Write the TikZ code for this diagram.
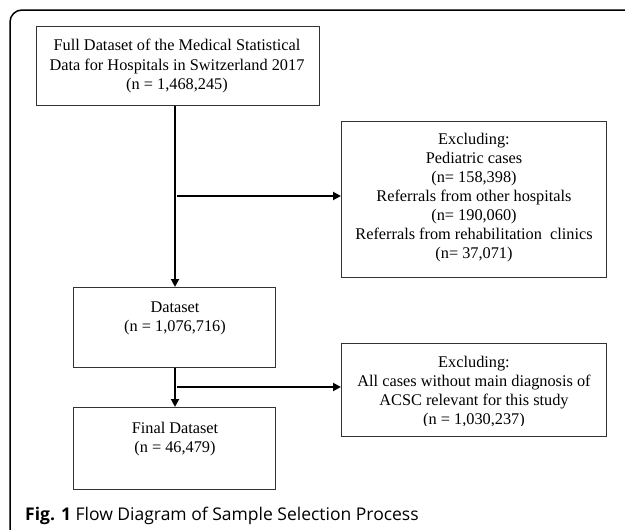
\documentclass[tikz,border=0pt]{standalone}
\usepackage{fontspec}
\setmainfont{Liberation Serif}
\newfontfamily\capfont{Open Sans}
\usetikzlibrary{arrows.meta,calc}
\begin{document}
\begin{tikzpicture}[x=1pt,y=-1pt,
  box/.style={draw=black!80,line width=1pt,rectangle,inner sep=0pt,anchor=north west},
  txt/.style={align=center,font=\fontsize{16.3}{19.1}\selectfont,inner sep=0pt},
  arr/.style={line width=1.8pt,-{Triangle[length=8pt,width=8pt]}},
  ]
\useasboundingbox (0,0) rectangle (625,530);
\draw[line width=1.5pt,rounded corners=12pt] (10,560) -- (10,10) -- (660,10);

\node[box,minimum width=283pt,minimum height=79pt] (b1) at (36,26) {};
\node[box,minimum width=265pt,minimum height=156pt] (r1) at (341,121) {};
\node[box,minimum width=202pt,minimum height=80pt] (ds) at (73,287) {};
\node[box,minimum width=265pt,minimum height=93pt] (r2) at (341,343) {};
\node[box,minimum width=202pt,minimum height=82pt] (fin) at (73,407) {};

\node[txt] (t1) at (177,66) {Full Dataset of the Medical Statistical\\Data for Hospitals in Switzerland 2017\\(n = 1,468,245)};
\node[txt] (t2) at (474,197.5) {Excluding:\\Pediatric cases\\(n= 158,398)\\Referrals from other hospitals\\(n= 190,060)\\Referrals from rehabilitation\ \ clinics\\(n= 37,071)};
\node[txt] (t3) at (175,318) {Dataset\\(n = 1,076,716)};
\begin{scope}
\clip (341,343) rectangle (606,425);
\node[txt] (t4) at (474,392) {Excluding:\\All cases without main diagnosis of\\ACSC relevant for this study\\(n = 1,030,237)};
\end{scope}
\node[txt] (t5) at (175,439) {Final Dataset\\(n = 46,479)};

\coordinate (spine) at (175,0);
\coordinate (j1) at (177,196);
\coordinate (j2) at (177,387);
\draw[arr] (b1.south -| spine) -- (ds.north -| spine);
\draw[arr] (j1) -- (j1 -| r1.west);
\draw[arr] (ds.south -| spine) -- (fin.north -| spine);
\draw[arr] (j2) -- (j2 -| r2.west);

\node[anchor=base west,inner sep=0pt,font=\capfont\fontsize{17.5}{20}\selectfont] (cap) at (25,520) {\textbf{Fig. 1} Flow Diagram of Sample Selection Process};
\end{tikzpicture}
\end{document}
